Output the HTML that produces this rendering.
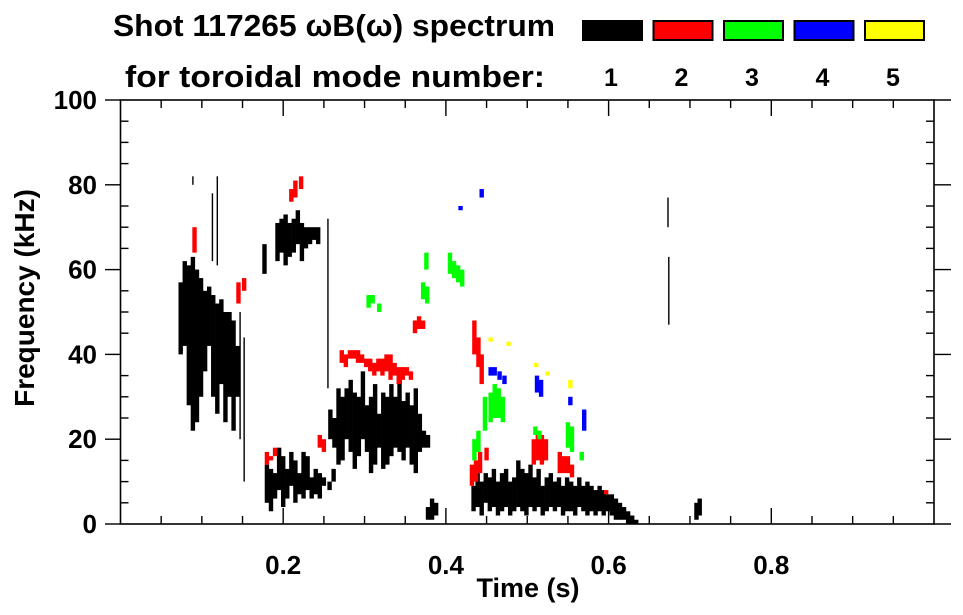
<!DOCTYPE html>
<html><head><meta charset="utf-8"><style>
html,body{margin:0;padding:0;background:#fff;}
svg{display:block;font-family:"Liberation Sans",sans-serif;font-weight:bold;}
</style></head><body>
<svg id="chart" width="963" height="615" viewBox="0 0 963 615" xmlns="http://www.w3.org/2000/svg">
<text x="113" y="36" font-size="31" textLength="442" lengthAdjust="spacingAndGlyphs">Shot 117265 ωB(ω) spectrum</text>
<text x="125" y="87" font-size="31" textLength="420" lengthAdjust="spacingAndGlyphs">for toroidal mode number:</text>
<g id="legend"></g>
<g id="marks"></g>
<g id="axes"></g>
<text x="528" y="597" font-size="27" text-anchor="middle">Time (s)</text>
<text transform="translate(34,298) rotate(-90)" font-size="28" text-anchor="middle">Frequency (kHz)</text>
</svg>
<script>
const modeNames=["1","2","3","4","5"];
const modeColors=["#000000","#ff0000","#00ff00","#0000ff","#ffff00"];
const xTickVals=[0.2,0.4,0.6,0.8];
const xTickLabels=["0.2","0.4","0.6","0.8"];
const yTickVals=[0,20,40,60,80,100];
const yTickLabels=["0","20","40","60","80","100"];
// strips: [time s, low kHz, high kHz]
const mode1=[[.074,40,57],[.079,42,62],[.084,28,61],[.089,22,63],[.094,24,60],[.099,30,58],[.104,36,55],[.109,42,56],[.114,30,54],[.119,26,52],[.124,33,53],[.129,24,50],[.134,30,50],[.139,22,48],[.144,30,42],
[.177,59,66],[.193,62,71],[.198,64,72],[.203,61,73],[.208,63,71],[.213,64,72],[.218,66,74],[.223,62,71],[.228,65,70],[.233,66,70],[.238,67,70],[.243,66,70],
[.180,5,14],[.185,3,13],[.190,6,12],[.195,8,18],[.200,4,16],[.205,6,13],[.210,9,17],[.215,5,15],[.220,7,12],[.225,6,17],[.230,8,16],[.235,6,11],[.240,7,13],[.245,6,12],[.250,9,11],[.257,8,10],[.262,10,13],
[.258,20,27],[.263,18,25],[.268,14,32],[.273,15,30],[.278,20,32],[.283,17,34],[.288,13,31],[.293,16,30],[.298,20,36],[.303,17,28],[.308,12,30],[.313,14,33],[.318,18,26],[.323,13,31],[.328,14,30],[.333,16,33],[.338,18,30],[.343,17,34],[.348,15,29],[.353,18,31],[.358,14,28],[.363,12,32],[.368,17,26],[.373,18,22],[.378,18,21],
[.378,1,4],[.383,1,6],[.388,2,5],
[.434,3,9],[.439,4,12],[.444,2,10],[.449,5,12],[.454,3,11],[.459,4,13],[.464,2,10],[.469,3,12],[.474,4,13],[.479,2,10],[.484,3,11],[.489,4,15],[.494,3,13],[.499,2,12],[.504,4,14],[.509,3,11],[.514,4,13],[.519,2,9],[.524,3,11],[.529,4,12],[.534,3,10],[.539,4,11],[.544,2,9],[.549,3,11],[.554,3,10],[.559,2,9],[.564,4,11],[.569,3,9],[.574,2,10],[.579,3,9],[.584,2,8],[.589,3,9],[.594,2,8],[.599,3,7],[.604,2,7],[.609,1,6],[.614,1,5],[.619,1,4],[.624,0,3],[.629,0,2],[.634,0,1],
[.708,1,5],[.712,2,6]];
const mode1Lines=[[.119,61,82],[.113,62,78],[.152,10,44],[.147,20,50],[.255,32,72],[.674,47,63],[.673,70,77],[.089,80,82]];
const mode2=[[.091,64,70],[.145,52,57],[.152,55,58],[.210,76,79],[.215,77,81],[.222,79,82],[.180,14,17],[.185,15,16],[.190,16,18],[.245,18,21],[.250,17,20],
[.272,38,41],[.277,37,40],[.282,39,41],[.287,39,41],[.292,38,41],[.297,38,40],[.302,37,39],[.307,36,39],[.312,35,38],[.317,36,39],[.322,35,39],[.327,36,40],[.332,34,40],[.337,35,38],[.342,33,37],[.347,34,37],[.352,35,37],[.357,34,36],
[.362,45,48],[.367,46,49],[.372,46,48],[.435,40,48],[.440,37,44],[.444,33,40],[.432,9,14],[.437,10,15],[.442,12,17],[.450,15,18],
[.508,14,20],[.513,15,22],[.518,14,21],[.523,15,20],[.540,12,17],[.545,12,16],[.550,12,16],[.555,11,14],[.597,7,8]];
const mode3=[[.305,51,54],[.310,52,54],[.318,50,52],[.376,60,64],[.405,59,64],[.410,58,62],[.415,57,61],[.420,56,60],[.372,53,57],[.377,52,56],
[.435,15,20],[.440,17,22],[.448,22,30],[.455,24,31],[.460,25,33],[.465,25,32],[.470,24,30],[.510,21,23],[.515,20,22],[.550,18,24],[.555,17,23],[.567,15,17]];
const mode4=[[.418,74,75],[.444,77,79],[.455,35,37],[.460,35,37],[.466,34,36],[.472,33,35],[.512,31,35],[.517,30,34],[.553,28,30],[.570,22,27]];
const mode5=[[.455,43,44],[.477,42,43],[.511,37,38],[.525,35,36],[.553,32,34]];

const NS="http://www.w3.org/2000/svg";
const X0=120.5,X1=934,Y0=524,Y1=100;
function xs(t){return X0+t*(X1-X0);}
function ys(f){return Y0-f/100*(Y0-Y1);}
function mk(tag,parent,attrs){const e=document.createElementNS(NS,tag);for(const k in attrs)e.setAttribute(k,attrs[k]);parent.appendChild(e);return e;}
const marks=document.getElementById('marks');
const all=[mode1,mode2,mode3,mode4,mode5];
all.forEach((arr,m)=>{arr.forEach(s=>{
  const r=mk('rect',marks,{x:xs(s[0])-2.2,y:ys(s[2]),width:4.4,height:Math.max(1.5,ys(s[1])-ys(s[2])),fill:modeColors[m]});
  
  
});});
mode1Lines.forEach(s=>{
  const r=mk('rect',marks,{x:xs(s[0])-0.7,y:ys(s[2]),width:1.4,height:ys(s[1])-ys(s[2]),fill:'#000'});
  
  
});
// legend
const lg=document.getElementById('legend');
modeNames.forEach((n,i)=>{
  const x=582+i*70.5;
  const r=mk('rect',lg,{x:x+1,y:21,width:59,height:19,fill:modeColors[i],stroke:'#000','stroke-width':2});
  
  
  const t=mk('text',lg,{x:x+29,y:86,'font-size':25,'text-anchor':'middle'});
  t.textContent=n;
  
  
});
// axes
const ax=document.getElementById('axes');
mk('rect',ax,{x:X0,y:Y1,width:X1-X0,height:Y0-Y1,fill:'none',stroke:'#000','stroke-width':1.6});
for(let v=0;v<=100;v+=5){
  const y=ys(v),major=v%20===0;
  mk('line',ax,{x1:major?105:X0,x2:X0+(major?0:8),y1:y,y2:y,stroke:'#000','stroke-width':1.4});
  mk('line',ax,{x1:X1-(major?0:8),x2:major?951:X1,y1:y,y2:y,stroke:'#000','stroke-width':1.4});
}
for(let i=1;i<20;i++){
  const t=i*0.05,x=xs(t),major=i%4===0;
  const L=major?16:8;
  mk('line',ax,{x1:x,x2:x,y1:Y0,y2:Y0-L,stroke:'#000','stroke-width':1.4});
  mk('line',ax,{x1:x,x2:x,y1:Y1,y2:Y1+L,stroke:'#000','stroke-width':1.4});
}
xTickVals.forEach((v,i)=>{
  const t=mk('text',ax,{x:xs(v),y:574,'font-size':26,'text-anchor':'middle'});
  t.textContent=xTickLabels[i];
  
  
});
yTickVals.forEach((v,i)=>{
  const t=mk('text',ax,{x:97,y:Math.min(ys(v)+9,533),'font-size':26,'text-anchor':'end'});
  t.textContent=yTickLabels[i];
  
  
});
</script>
</body></html>
